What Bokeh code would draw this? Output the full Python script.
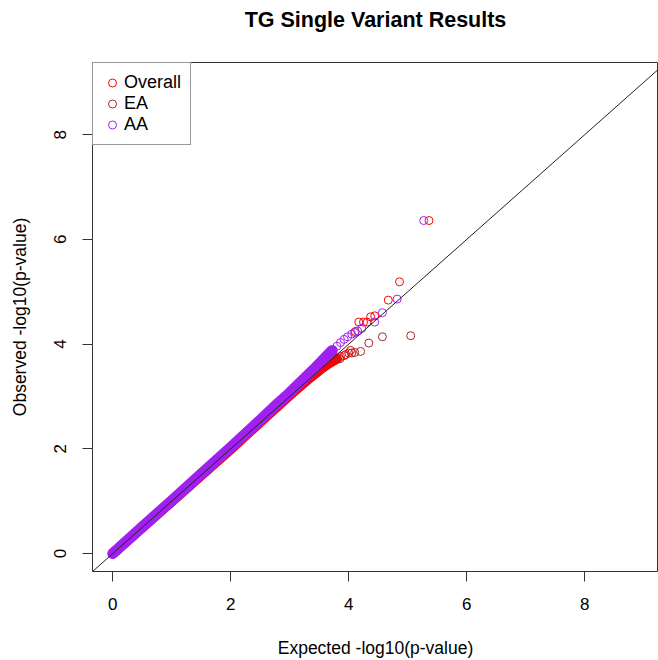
from bokeh.plotting import figure
from bokeh.models import Range1d, FixedTicker, Slope, Legend, LegendItem, Title
from bokeh.embed import file_html
from bokeh.resources import INLINE

# ---- data ----
# dense part of each QQ curve (thousands of overlapping points -> solid band)
ea_band_exp = [0.0, 1.0, 2.0, 2.5, 3.0, 3.5, 3.72]
ea_band_obs = [0.0, 1.0, 2.01, 2.53, 3.05, 3.50, 3.68]
overall_band_exp = [0.0, 1.0, 2.0, 2.5, 3.0, 3.3, 3.6, 3.8]
overall_band_obs = [0.0, 0.995, 1.99, 2.51, 3.02, 3.32, 3.60, 3.72]
aa_band_exp = [0.0, 0.5, 1.0, 1.5, 2.0, 2.5, 2.8, 3.0, 3.2, 3.4, 3.6, 3.72]
aa_band_obs = [0.0, 0.51, 1.01, 1.52, 2.03, 2.55, 2.87, 3.07, 3.29, 3.51, 3.74, 3.88]

# sparse tail points
ea_tail_exp = [3.85, 3.92, 4.00, 4.05, 4.10, 4.20, 4.34, 4.57, 5.05]
ea_tail_obs = [3.72, 3.78, 3.83, 3.83, 3.84, 3.86, 4.02, 4.14, 4.16]
overall_tail_exp = [3.86, 3.95, 4.03, 4.11, 4.17, 4.25, 4.31, 4.37, 4.44, 4.67, 4.86, 5.36]
overall_tail_obs = [3.76, 3.80, 3.88, 4.24, 4.42, 4.42, 4.42, 4.52, 4.54, 4.84, 5.19, 6.36]
aa_tail_exp = [3.80, 3.86, 3.92, 3.98, 4.05, 4.10, 4.15, 4.22, 4.44, 4.57, 4.82, 5.27]
aa_tail_obs = [3.96, 4.03, 4.09, 4.14, 4.19, 4.22, 4.25, 4.30, 4.42, 4.60, 4.86, 6.36]

series_names = ["Overall", "EA", "AA"]
x_ticks = [0, 2, 4, 6, 8]
y_ticks = [0, 2, 4, 6, 8]
title_text = "TG Single Variant Results"

C_OVERALL = "#FF0000"
C_EA = "#A52A2A"
C_AA = "#A020F0"
FONT = "Liberation Sans"

p = figure(width=658, height=660, output_backend="svg", toolbar_location=None,
           title=None,
           x_range=Range1d(-0.344, 9.25), y_range=Range1d(-0.343, 9.378),
           min_border_left=92, min_border_right=0, min_border_top=62,
           min_border_bottom=88, background_fill_color="white")
p.grid.visible = False
p.outline_line_color = "#333333"
p.outline_line_width = 1

# spacer (closest to the frame) so that the title sits near the top edge
p.add_layout(Title(text=" ", text_font_size="1px", standoff=26), "above")
p.add_layout(Title(text=title_text, align="center", vertical_align="top", standoff=0,
                   text_font=FONT, text_font_size="21.5px", text_font_style="bold",
                   text_color="black"), "above")

for ax, ticks in ((p.xaxis[0], x_ticks), (p.yaxis[0], y_ticks)):
    ax.ticker = FixedTicker(ticks=ticks)
    ax.axis_line_color = None
    ax.major_tick_in = 0
    ax.major_tick_out = 10
    ax.major_tick_line_color = "#333333"
    ax.minor_tick_line_color = None
    ax.major_label_text_font = FONT
    ax.major_label_text_font_size = "17px"
    ax.major_label_text_color = "black"
    ax.axis_label_text_font = FONT
    ax.axis_label_text_font_size = "17.5px"
    ax.axis_label_text_font_style = "normal"
    ax.axis_label_text_color = "black"

p.xaxis.axis_label = "Expected -log10(p-value)"
p.yaxis.axis_label = "Observed -log10(p-value)"
p.xaxis.major_label_standoff = 16
p.xaxis.axis_label_standoff = 25
p.yaxis.major_label_standoff = 16
p.yaxis.axis_label_standoff = 22
p.yaxis.major_label_orientation = "vertical"

BW = 10
p.line(ea_band_exp, ea_band_obs, line_color=C_EA, line_width=BW,
       line_cap="round", line_join="round")
p.line(overall_band_exp, overall_band_obs, line_color=C_OVERALL, line_width=BW,
       line_cap="round", line_join="round")
p.line(aa_band_exp, aa_band_obs, line_color=C_AA, line_width=BW + 1,
       line_cap="round", line_join="round")

r_ea = p.scatter(ea_tail_exp, ea_tail_obs, marker="circle", size=8,
                 fill_color=None, line_color=C_EA, line_width=1)
r_ov = p.scatter(overall_tail_exp, overall_tail_obs, marker="circle", size=8,
                 fill_color=None, line_color=C_OVERALL, line_width=1)
r_aa = p.scatter(aa_tail_exp, aa_tail_obs, marker="circle", size=8,
                 fill_color=None, line_color=C_AA, line_width=1)

p.add_layout(Slope(gradient=1, y_intercept=0, line_color="#222222", line_width=1))

legend = Legend(items=[LegendItem(label=series_names[0], renderers=[r_ov]),
                       LegendItem(label=series_names[1], renderers=[r_ea]),
                       LegendItem(label=series_names[2], renderers=[r_aa])],
                location="top_left", margin=0, padding=9, spacing=0,
                glyph_width=20, glyph_height=21, label_height=21,
                label_standoff=2, label_text_font=FONT,
                label_text_font_size="18px", label_text_color="black",
                border_line_color="#333333", border_line_width=1,
                background_fill_color="white", background_fill_alpha=1.0)
p.add_layout(legend, "center")

open("out.html", "w").write(file_html(p, INLINE))
